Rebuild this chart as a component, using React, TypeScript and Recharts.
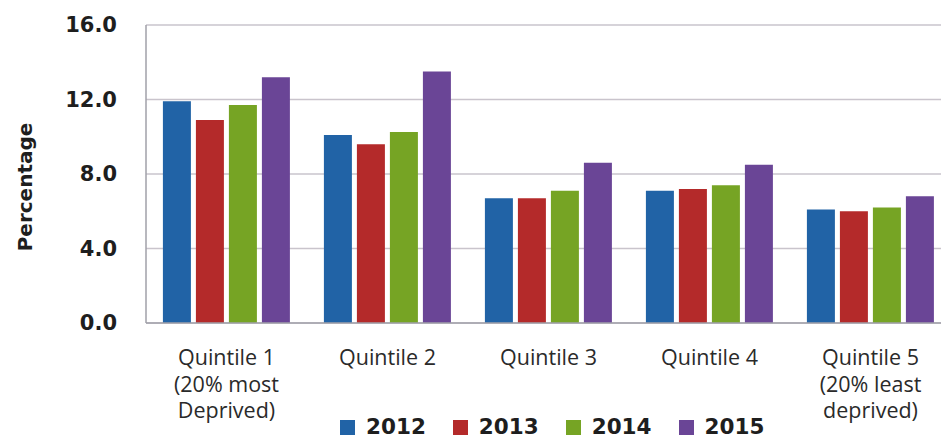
import React from 'react';
import { BarChart, Bar, XAxis, YAxis, CartesianGrid, Legend } from 'recharts';

const categories = ['Quintile 1', 'Quintile 2', 'Quintile 3', 'Quintile 4', 'Quintile 5'];
const tickLabels: string[][] = [
  ['Quintile 1', '(20% most', 'Deprived)'],
  ['Quintile 2'],
  ['Quintile 3'],
  ['Quintile 4'],
  ['Quintile 5', '(20% least', 'deprived)'],
];
const years = ['2012', '2013', '2014', '2015'];
const colors = ['#2163a6', '#b42a2a', '#76a424', '#6a4596'];
const v2012 = [11.9, 10.1, 6.7, 7.1, 6.1];
const v2013 = [10.9, 9.6, 6.7, 7.2, 6.0];
const v2014 = [11.7, 10.25, 7.1, 7.4, 6.2];
const v2015 = [13.2, 13.5, 8.6, 8.5, 6.8];
const yTicks = [0, 4, 8, 12, 16];

const series = [v2012, v2013, v2014, v2015];
const data = categories.map((c, i) => {
  const row: Record<string, any> = { name: c, idx: i };
  years.forEach((y, k) => {
    row[y] = series[k][i];
  });
  return row;
});

const XTick = (props: any) => {
  const { x, y, payload } = props;
  const lines = tickLabels[payload.index] || [String(payload.value)];
  return (
    <text
      x={x}
      y={y}
      textAnchor="middle"
      fill="#2a2a2a"
      style={{ fontFamily: '"Open Sans", sans-serif', fontSize: 21.5 }}
    >
      {lines.map((l, i) => (
        <tspan key={i} x={x} dy={i === 0 ? 42 : 26.5}>
          {l}
        </tspan>
      ))}
    </text>
  );
};

const LegendContent = () => (
  <div style={{ display: 'flex', alignItems: 'center', height: 24 }}>
    {years.map((y, i) => (
      <div key={y} style={{ display: 'flex', alignItems: 'center', marginRight: 27 }}>
        <div style={{ width: 15, height: 15, background: colors[i], marginRight: 11 }} />
        <span
          style={{
            fontFamily: '"DejaVu Sans", sans-serif',
            fontWeight: 'bold',
            fontSize: 21.5,
            color: '#1e1e1e',
            lineHeight: '24px',
          }}
        >
          {y}
        </span>
      </div>
    ))}
  </div>
);

const YLabel = () => (
  <text
    x={25}
    y={187}
    transform="rotate(-90 25 187)"
    textAnchor="middle"
    dominantBaseline="central"
    fill="#1e1e1e"
    style={{ fontFamily: '"DejaVu Sans", sans-serif', fontWeight: 'bold', fontSize: 20 }}
  >
    Percentage
  </text>
);

export default function App() {
  return (
    <div
      style={{
        position: 'absolute',
        left: 0,
        top: 0,
        width: 941,
        height: 440,
        overflow: 'hidden',
        background: '#ffffff',
      }}
    >
      <BarChart
        width={951}
        height={440}
        data={data}
        margin={{ top: 25, right: 0, bottom: 0, left: 0 }}
        barCategoryGap="10.5%"
        barGap={5}
      >
        <CartesianGrid vertical={false} stroke="#c9c4cc" strokeWidth={1.5} />
        <XAxis
          dataKey="name"
          height={117}
          tick={<XTick />}
          tickLine={false}
          tickSize={0}
          tickMargin={0}
          axisLine={{ stroke: '#a0a0a8', strokeWidth: 1.5 }}
          interval={0}
        />
        <YAxis
          width={146}
          domain={[0, 16]}
          ticks={yTicks}
          tickFormatter={(v: number) => v.toFixed(1)}
          tickLine={false}
          tickSize={0}
          tickMargin={29}
          axisLine={{ stroke: '#a0a0a8', strokeWidth: 1.5 }}
          tick={{
            fill: '#1e1e1e',
            fontFamily: '"DejaVu Sans", sans-serif',
            fontWeight: 'bold',
            fontSize: 21,
          }}
          label={<YLabel />}
        />
        <Legend
          layout="horizontal"
          verticalAlign="middle"
          align="center"
          content={<LegendContent />}
          wrapperStyle={{ left: 340, top: 415, width: 500, height: 24 }}
        />
        {years.map((y, i) => (
          <Bar key={y} dataKey={y} fill={colors[i]} isAnimationActive={false} />
        ))}
      </BarChart>
    </div>
  );
}
